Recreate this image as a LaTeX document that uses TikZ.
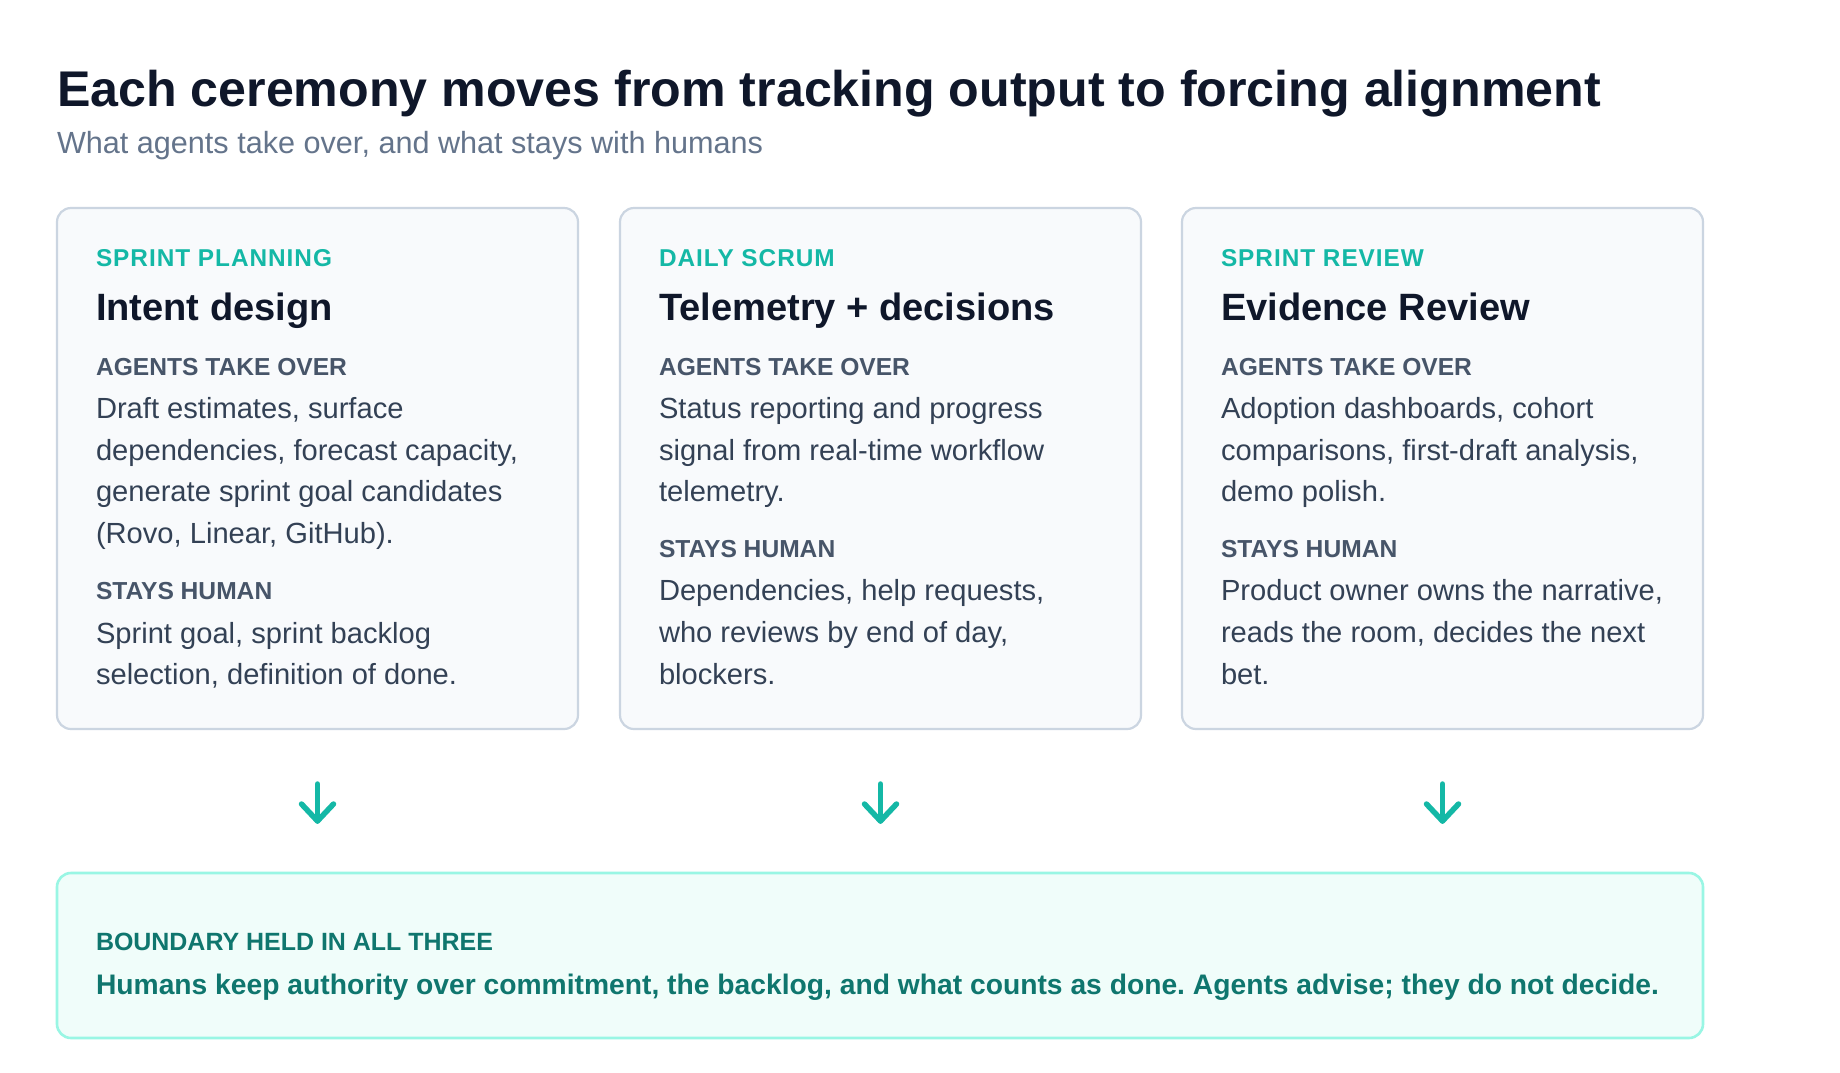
\documentclass[tikz,border=0pt]{standalone}
\usepackage{fontspec}
\setmainfont{Liberation Sans}
\frenchspacing
\definecolor{cTitle}{HTML}{0F172A}
\definecolor{cSub}{HTML}{64748B}
\definecolor{cTag}{HTML}{14B8A6}
\definecolor{cLabel}{HTML}{475569}
\definecolor{cBody}{HTML}{334155}
\definecolor{cCardBorder}{HTML}{CBD5E1}
\definecolor{cCardFill}{HTML}{F8FAFC}
\definecolor{cBotBorder}{HTML}{99F6E4}
\definecolor{cBotFill}{HTML}{F0FDFA}
\definecolor{cBotText}{HTML}{0F766E}
\newlength\fitlen
\newcommand\fitsize[3]{\settowidth\fitlen{\fontsize{10pt}{12pt}\selectfont\frenchspacing #3}\pgfmathsetmacro#1{10*#2/\fitlen}\global\let#1#1}
\AtBeginDocument{%
\fitsize{\szT}{1544}{\bfseries Each ceremony moves from tracking output to forcing alignment}%
\fitsize{\szS}{706}{What agents take over, and what stays with humans}%
\fitsize{\szG}{236}{\bfseries\addfontfeature{LetterSpace=4}SPRINT PLANNING}%
\fitsize{\szH}{396}{\bfseries Telemetry + decisions}%
\fitsize{\szL}{251}{\bfseries AGENTS TAKE OVER}%
\fitsize{\szB}{864}{dependencies, forecast capacity,Product owner owns the narrative,}%
\fitsize{\szBL}{397}{\bfseries BOUNDARY HELD IN ALL THREE}%
\fitsize{\szBT}{1563}{\bfseries Humans keep authority over commitment, the backlog, and what counts as done. Agents advise; they do not decide.}%
}
\tikzset{
  txt/.style={inner sep=0pt, outer sep=0pt, anchor=base west},
  ttl/.style={txt, text=cTitle, font=\fontsize{\szT pt}{\szT pt}\selectfont\bfseries},
  sub/.style={txt, text=cSub, font=\fontsize{\szS pt}{\szS pt}\selectfont},
  tag/.style={txt, text=cTag, font=\fontsize{\szG pt}{\szG pt}\selectfont\bfseries\addfontfeature{LetterSpace=4}},
  head/.style={txt, text=cTitle, font=\fontsize{\szH pt}{\szH pt}\selectfont\bfseries},
  lbl/.style={txt, text=cLabel, font=\fontsize{\szL pt}{\szL pt}\selectfont\bfseries},
  body/.style={txt, text=cBody, font=\fontsize{\szB pt}{\szB pt}\selectfont},
  botlbl/.style={txt, text=cBotText, font=\fontsize{\szBL pt}{\szBL pt}\selectfont\bfseries},
  bottxt/.style={txt, text=cBotText, font=\fontsize{\szBT pt}{\szBT pt}\selectfont\bfseries},
  card/.style={draw=cCardBorder, fill=cCardFill, line width=2.2pt, rounded corners=14pt,
    minimum width=521pt, minimum height=521pt, anchor=north west, inner sep=0pt, outer sep=0pt},
  botbox/.style={draw=cBotBorder, fill=cBotFill, line width=2.6pt, rounded corners=14pt,
    minimum width=1646pt, minimum height=165pt, anchor=north west, inner sep=0pt, outer sep=0pt},
  arrowline/.style={draw=cTag, line width=5.5pt, line cap=round, line join=round},
}
\begin{document}
\begin{tikzpicture}[x=1pt,y=-1pt]
\useasboundingbox[fill=white] (0,0) rectangle (1840,1072);

% title
\node[ttl] (title) at (57,106) {Each ceremony moves from tracking output to forcing alignment};
\node[sub] (subtitle) at (57,153) {What agents take over, and what stays with humans};

% cards
\node[card] (c1) at (57,208) {};
\node[card] (c2) at (620,208) {};
\node[card] (c3) at (1182,208) {};

% card 1
\node[tag]  (c1tag) at (96,266) {SPRINT PLANNING};
\node[head] (c1head) at (96,320) {Intent design};
\node[lbl]  (c1la) at (96,375) {AGENTS TAKE OVER};
\node[body] (c1a1) at (96,418) {Draft estimates, surface};
\node[body] (c1a2) at (96,460) {dependencies, forecast capacity,};
\node[body] (c1a3) at (96,501.5) {generate sprint goal candidates};
\node[body] (c1a4) at (96,543) {(Rovo, Linear, GitHub).};
\node[lbl]  (c1lh) at (96,599) {STAYS HUMAN};
\node[body] (c1h1) at (96,643) {Sprint goal, sprint backlog};
\node[body] (c1h2) at (96,684) {selection, definition of done.};

% card 2
\node[tag]  (c2tag) at (659,266) {DAILY SCRUM};
\node[head] (c2head) at (659,320) {Telemetry + decisions};
\node[lbl]  (c2la) at (659,375) {AGENTS TAKE OVER};
\node[body] (c2a1) at (659,418) {Status reporting and progress};
\node[body] (c2a2) at (659,460) {signal from real-time workflow};
\node[body] (c2a3) at (659,501.5) {telemetry.};
\node[lbl]  (c2lh) at (659,557) {STAYS HUMAN};
\node[body] (c2h1) at (659,600) {Dependencies, help requests,};
\node[body] (c2h2) at (659,642) {who reviews by end of day,};
\node[body] (c2h3) at (659,684) {blockers.};

% card 3
\node[tag]  (c3tag) at (1221,266) {SPRINT REVIEW};
\node[head] (c3head) at (1221,320) {Evidence Review};
\node[lbl]  (c3la) at (1221,375) {AGENTS TAKE OVER};
\node[body] (c3a1) at (1221,418) {Adoption dashboards, cohort};
\node[body] (c3a2) at (1221,460) {comparisons, first-draft analysis,};
\node[body] (c3a3) at (1221,501.5) {demo polish.};
\node[lbl]  (c3lh) at (1221,557) {STAYS HUMAN};
\node[body] (c3h1) at (1221,600) {Product owner owns the narrative,};
\node[body] (c3h2) at (1221,642) {reads the room, decides the next};
\node[body] (c3h3) at (1221,684) {bet.};

% arrows
\coordinate (a1t) at (317.5,784); \coordinate (a1b) at (317.5,821);
\coordinate (a2t) at (880.5,784); \coordinate (a2b) at (880.5,821);
\coordinate (a3t) at (1442.5,784); \coordinate (a3b) at (1442.5,821);
\draw[arrowline] (a1t) -- (a1b);
\draw[arrowline] (a1b) ++(-16,-17) -- (a1b) -- ++(16,-17);
\draw[arrowline] (a2t) -- (a2b);
\draw[arrowline] (a2b) ++(-16,-17) -- (a2b) -- ++(16,-17);
\draw[arrowline] (a3t) -- (a3b);
\draw[arrowline] (a3b) ++(-16,-17) -- (a3b) -- ++(16,-17);

% bottom box
\node[botbox] (bot) at (57,873) {};
\node[botlbl] (botlbl) at (96,950) {BOUNDARY HELD IN ALL THREE};
\node[bottxt] (bottxt) at (96,994) {Humans keep authority over commitment, the backlog, and what counts as done. Agents advise; they do not decide.};
\end{tikzpicture}
\end{document}
